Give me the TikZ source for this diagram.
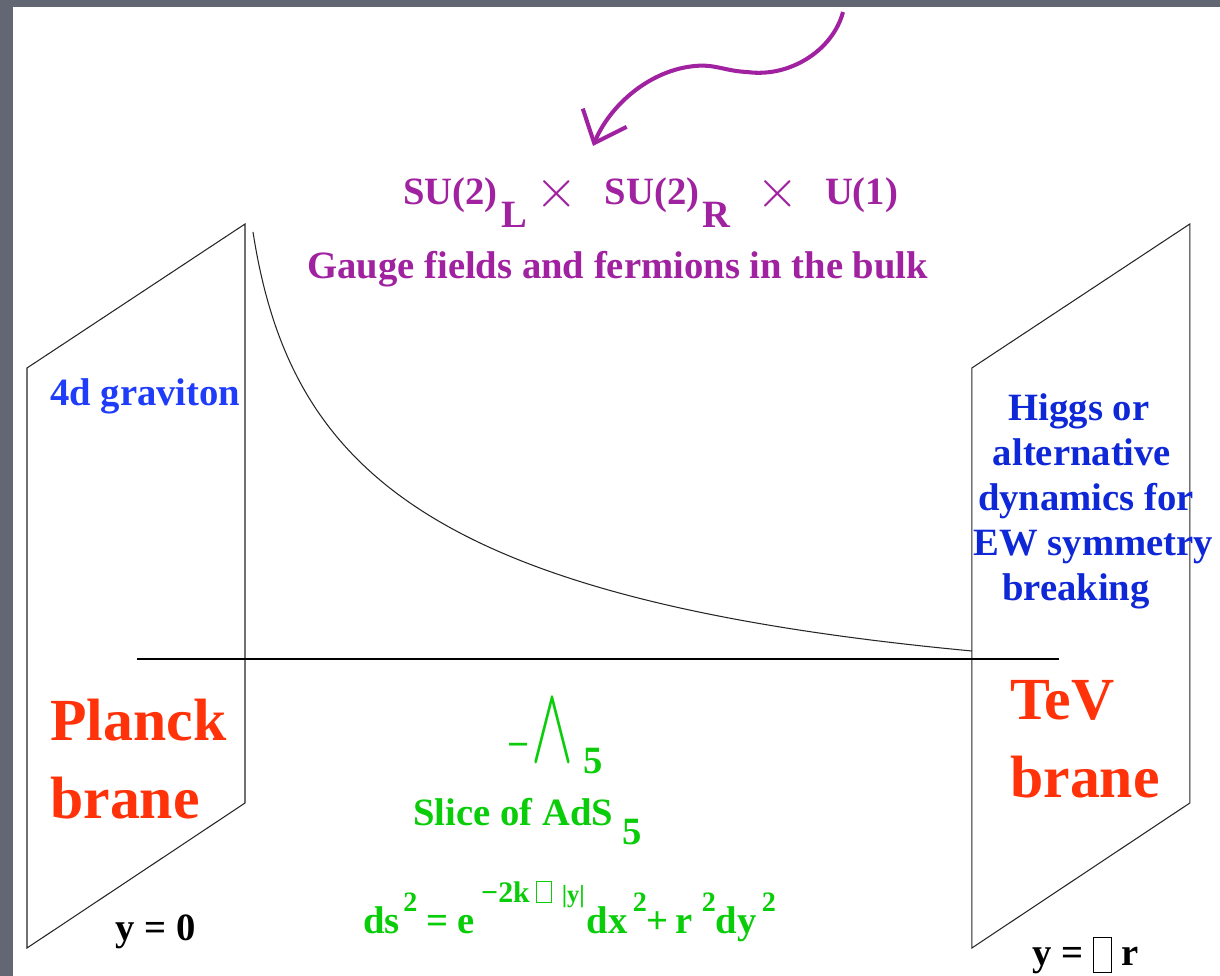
\documentclass[tikz,border=0pt]{standalone}
\usepackage{fontspec}
\setmainfont{Liberation Serif}
\usepackage{graphicx}
\usetikzlibrary{arrows.meta}

\definecolor{slidegray}{RGB}{98,103,115}
\definecolor{bulkpurple}{RGB}{160,34,160}
\definecolor{gravblue}{RGB}{30,60,250}
\definecolor{higgsblue}{RGB}{15,40,215}
\definecolor{branered}{RGB}{255,50,10}
\definecolor{adsgreen}{RGB}{10,205,10}

\newcommand{\nochar}[2]{{\fboxsep=0pt\fboxrule=0.6pt\fbox{\rule{0pt}{#2}\rule{#1}{0pt}}}}
\newcommand{\sqr}[1]{\raisebox{12pt}{\fontsize{16}{16}\selectfont #1}}
\newcommand{\bigtimes}{\raisebox{-1.5pt}{\scalebox{1.5}{$\times$}}}

\begin{document}
\begin{tikzpicture}[x=0.02cm,y=-0.02cm,
    brane/.style={draw=black!85,line width=0.6pt},
    label/.style={inner sep=0pt,font=\fontsize{22}{25.6}\selectfont\bfseries},
    bigred/.style={inner sep=0pt,align=left,text=branered,font=\fontsize{34}{44.2}\selectfont\bfseries}]
    \fill[slidegray] (0,0) rectangle (1220,976);
    \fill[white] (13,7) rectangle (1220,976);
    \useasboundingbox (0,0) rectangle (1220,976);

    \begin{scope}
        \draw[brane] (27,368) -- (245,224) -- (245,803) -- (27,948) -- cycle;
    \end{scope}
    \begin{scope}[xshift=18.9cm]
        \draw[brane] (27,368) -- (245,224) -- (245,803) -- (27,948) -- cycle;
    \end{scope}

    \coordinate (axisL) at (137,659);
    \coordinate (axisR) at (1059,659);
    \draw[line width=0.6pt] (axisL) -- (axisR);

    \coordinate (warpTop) at (253,232);
    \coordinate (warpEnd) at (972,651);
    \draw[line width=0.6pt,black!85] (warpTop) .. controls (290,470) and (430,600) .. (warpEnd);

    \coordinate (twistStart) at (843,12);
    \coordinate (twistEnd) at (593,146);
    \draw[bulkpurple,line width=2.3pt,-{Straight Barb[length=0.55cm,width=0.95cm]}]
        (twistStart) .. controls (833,50) and (790,78) .. (747,72)
        .. controls (725,71) and (715,64) .. (695,66)
        .. controls (650,70) and (610,105) .. (twistEnd);

    \node[label,text=bulkpurple,anchor=base west] (group) at (403,205)
        {SU(2)\hspace{2pt}\raisebox{-13pt}{L}\hspace{5pt}\bigtimes\hspace{15pt}SU(2)\hspace{2pt}\raisebox{-13pt}{R}\hspace{14.5pt}\bigtimes\hspace{15pt}U(1)};
    \node[label,text=bulkpurple,anchor=base west] (bulk) at (307,279) {Gauge fields and fermions in the bulk};

    \node[label,text=gravblue,anchor=base west] (graviton) at (50,405) {4d graviton};
    \node[label,text=higgsblue,align=center,anchor=north] (higgs) at (1082,393)
        {Higgs or\hspace*{3.5pt}\\alternative\hspace*{11pt}\\\hspace*{4.5pt}dynamics for\\\hspace*{13pt}EW symmetry\\breaking\hspace*{7pt}};

    \node[bigred,anchor=north west] (planck) at (50,699) {Planck\\brane};
    \node[bigred,anchor=north west] (tev) at (1010,680) {TeV\\brane};

    \node[label,text=adsgreen,anchor=base west] (lambda) at (507,761)
        {\raisebox{2pt}{−}\hspace{1pt}\resizebox{0.84cm}{1.22cm}{$\wedge$}\hspace{6pt}\raisebox{-7pt}{5}};
    \node[label,text=adsgreen,anchor=base west] (slice) at (413,825) {Slice of AdS \raisebox{-11pt}{5}};
    \node[label,text=adsgreen,anchor=base west] (metric) at (363,933)
        {ds\hspace{2pt}\sqr{2}\hspace{5pt}=\hspace{5pt}e\hspace{4pt}\raisebox{17.5pt}{\fontsize{17}{17}\selectfont −2k\hspace{3.5pt}\nochar{8pt}{11.4pt}\hspace{5.5pt}{\fontsize{14}{14}\selectfont|y|}}\hspace{1pt}dx\hspace{3pt}\sqr{2}+\hspace{4pt}r\hspace{5pt}\sqr{2}dy\hspace{3pt}\sqr{2}};

    \node[label,anchor=base west] (yzero) at (115,940) {y = 0};
    \node[label,anchor=base west] (ypir) at (1032,965) {y = \raisebox{-4pt}{\nochar{9.5pt}{19.5pt}} r};
\end{tikzpicture}
\end{document}
